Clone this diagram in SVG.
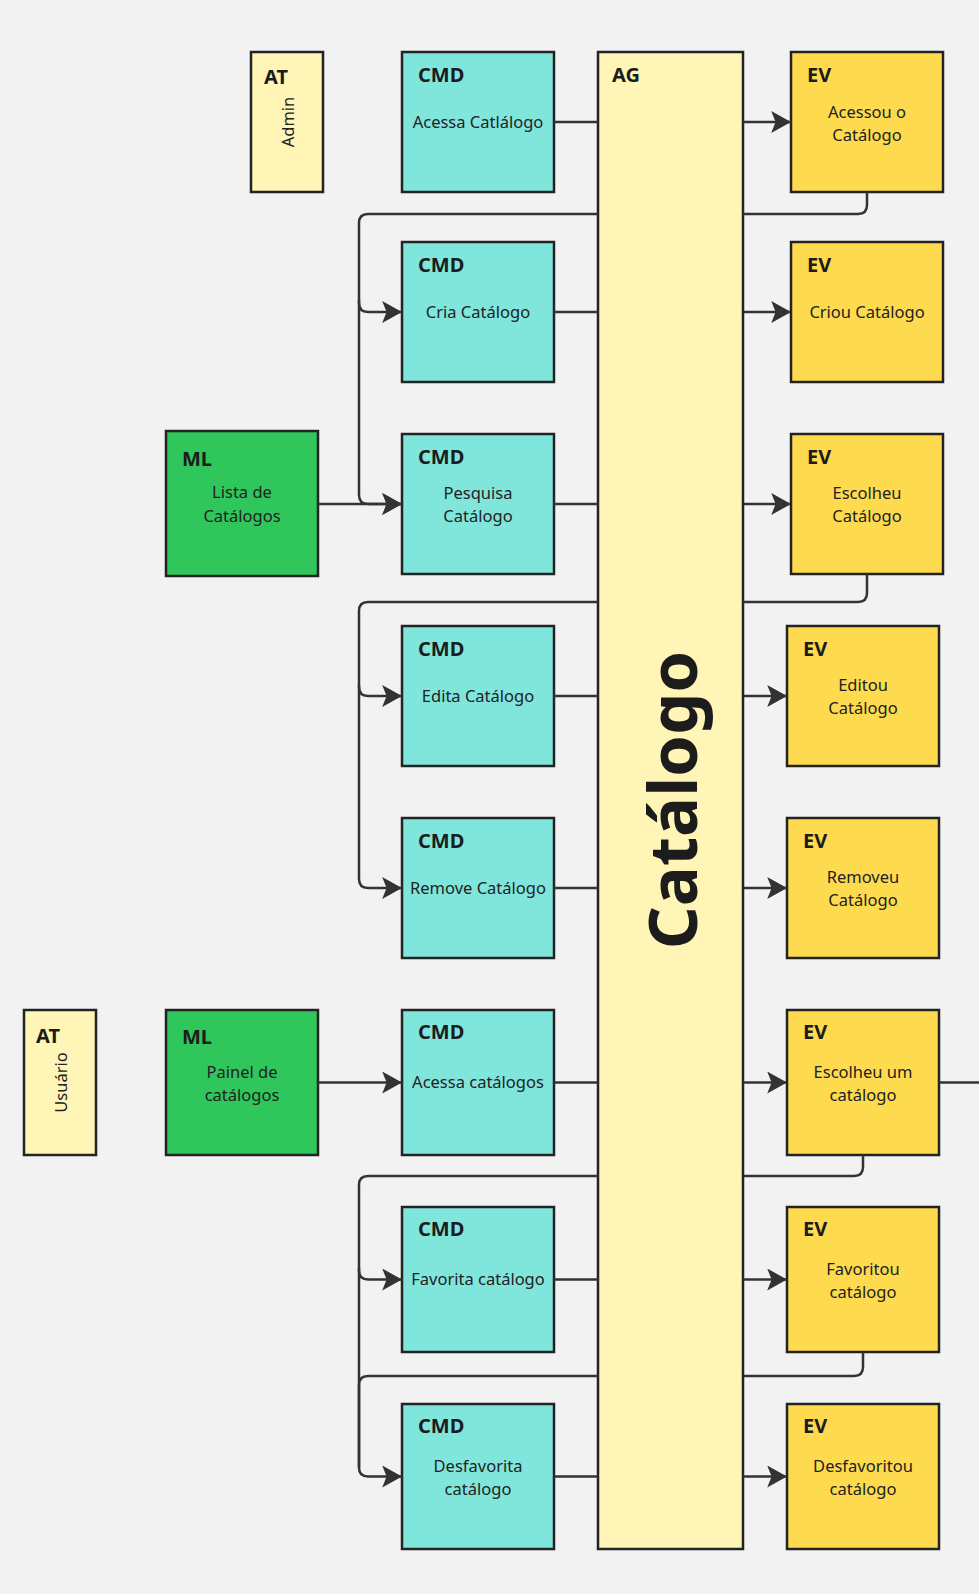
<svg xmlns="http://www.w3.org/2000/svg" width="979" height="1594" viewBox="0 0 979 1594">
<style>
.bg{fill:#f2f2f2}
.box{stroke:#232323;stroke-width:2.5}
.cmd{fill:#80e6dc}
.ev{fill:#fedb4e}
.ag{fill:#fff5b6}
.at{fill:#fff5b6}
.ml{fill:#2fc65c}
.t{font-family:"Noto Sans","Open Sans","DejaVu Sans",sans-serif;font-weight:700;font-size:20px;fill:#1c1c1c}
.b{font-family:"Noto Sans","Open Sans","DejaVu Sans",sans-serif;font-size:16.5px;fill:#222;text-anchor:middle}
.big{font-family:"Noto Sans","Open Sans","DejaVu Sans",sans-serif;font-weight:700;font-size:67px;fill:#1c1c1c;text-anchor:middle}
.c{fill:none;stroke:#333;stroke-width:2.5}
</style>
<defs>
<marker id="ah" markerUnits="userSpaceOnUse" markerWidth="20" markerHeight="22" viewBox="0 0 18 20" refX="18" refY="10" orient="auto">
<path d="M0,0 L18,10 L0,20 L4,10 Z" fill="#333"/>
</marker>
</defs>
<rect class="bg" x="0" y="0" width="979" height="1594"/>

<g id="nodes">
<g id="at-admin"><rect class="box at" x="251" y="52" width="72" height="140"/><text class="t" x="264" y="84">AT</text><text class="b" transform="translate(294,122) rotate(-90)">Admin</text></g>
<g id="at-usuario"><rect class="box at" x="24" y="1010" width="72" height="145"/><text class="t" x="36" y="1043">AT</text><text class="b" transform="translate(66.5,1082.5) rotate(-90)">Usuário</text></g>

<g id="ml-lista"><rect class="box ml" x="166" y="431" width="152" height="145"/><text class="t" x="182" y="466">ML</text><text class="b" x="242" y="498">Lista de</text><text class="b" x="242" y="521.5">Catálogos</text></g>
<g id="ml-painel"><rect class="box ml" x="166" y="1010" width="152" height="145"/><text class="t" x="182" y="1044">ML</text><text class="b" x="242" y="1077.5">Painel de</text><text class="b" x="242" y="1100.5">catálogos</text></g>

<g id="cmd-acessa"><rect class="box cmd" x="402" y="52" width="152" height="140"/><text class="t" x="418" y="82">CMD</text><text class="b" x="478" y="127.5">Acessa Catlálogo</text></g>
<g id="cmd-cria"><rect class="box cmd" x="402" y="242" width="152" height="140"/><text class="t" x="418" y="272">CMD</text><text class="b" x="478" y="317.5">Cria Catálogo</text></g>
<g id="cmd-pesquisa"><rect class="box cmd" x="402" y="434" width="152" height="140"/><text class="t" x="418" y="464">CMD</text><text class="b" x="478" y="498.5">Pesquisa</text><text class="b" x="478" y="522">Catálogo</text></g>
<g id="cmd-edita"><rect class="box cmd" x="402" y="626" width="152" height="140"/><text class="t" x="418" y="656">CMD</text><text class="b" x="478" y="701.5">Edita Catálogo</text></g>
<g id="cmd-remove"><rect class="box cmd" x="402" y="818" width="152" height="140"/><text class="t" x="418" y="848">CMD</text><text class="b" x="478" y="893.5">Remove Catálogo</text></g>
<g id="cmd-acessa-catalogos"><rect class="box cmd" x="402" y="1010" width="152" height="145"/><text class="t" x="418" y="1039">CMD</text><text class="b" x="478" y="1088">Acessa catálogos</text></g>
<g id="cmd-favorita"><rect class="box cmd" x="402" y="1207" width="152" height="145"/><text class="t" x="418" y="1236">CMD</text><text class="b" x="478" y="1285">Favorita catálogo</text></g>
<g id="cmd-desfavorita"><rect class="box cmd" x="402" y="1404" width="152" height="145"/><text class="t" x="418" y="1433">CMD</text><text class="b" x="478" y="1471.5">Desfavorita</text><text class="b" x="478" y="1495">catálogo</text></g>

<g id="ag-catalogo"><rect class="box ag" x="598" y="52" width="145" height="1497"/><text class="t" x="612" y="82">AG</text><text class="big" transform="translate(697,800) rotate(-90)">Catálogo</text></g>

<g id="ev-acessou"><rect class="box ev" x="791" y="52" width="152" height="140"/><text class="t" x="807" y="82">EV</text><text class="b" x="867" y="117.5">Acessou o</text><text class="b" x="867" y="141">Catálogo</text></g>
<g id="ev-criou"><rect class="box ev" x="791" y="242" width="152" height="140"/><text class="t" x="807" y="272">EV</text><text class="b" x="867" y="317.5">Criou Catálogo</text></g>
<g id="ev-escolheu"><rect class="box ev" x="791" y="434" width="152" height="140"/><text class="t" x="807" y="464">EV</text><text class="b" x="867" y="498.5">Escolheu</text><text class="b" x="867" y="522">Catálogo</text></g>
<g id="ev-editou"><rect class="box ev" x="787" y="626" width="152" height="140"/><text class="t" x="803" y="656">EV</text><text class="b" x="863" y="690.5">Editou</text><text class="b" x="863" y="714">Catálogo</text></g>
<g id="ev-removeu"><rect class="box ev" x="787" y="818" width="152" height="140"/><text class="t" x="803" y="848">EV</text><text class="b" x="863" y="882.5">Removeu</text><text class="b" x="863" y="906">Catálogo</text></g>
<g id="ev-escolheu-um"><rect class="box ev" x="787" y="1010" width="152" height="145"/><text class="t" x="803" y="1039">EV</text><text class="b" x="863" y="1077.5">Escolheu um</text><text class="b" x="863" y="1101">catálogo</text></g>
<g id="ev-favoritou"><rect class="box ev" x="787" y="1207" width="152" height="145"/><text class="t" x="803" y="1236">EV</text><text class="b" x="863" y="1274.5">Favoritou</text><text class="b" x="863" y="1298">catálogo</text></g>
<g id="ev-desfavoritou"><rect class="box ev" x="787" y="1404" width="152" height="145"/><text class="t" x="803" y="1433">EV</text><text class="b" x="863" y="1471.5">Desfavoritou</text><text class="b" x="863" y="1495">catálogo</text></g>
</g>

<g id="connectors">
<path class="c" d="M554 122 H598"/>
<path class="c" d="M554 312 H598"/>
<path class="c" d="M554 504 H598"/>
<path class="c" d="M554 696 H598"/>
<path class="c" d="M554 888 H598"/>
<path class="c" d="M554 1082.5 H598"/>
<path class="c" d="M554 1279.5 H598"/>
<path class="c" d="M554 1476.5 H598"/>

<path class="c" d="M743 122 H791" marker-end="url(#ah)"/>
<path class="c" d="M743 312 H791" marker-end="url(#ah)"/>
<path class="c" d="M743 504 H791" marker-end="url(#ah)"/>
<path class="c" d="M743 696 H787" marker-end="url(#ah)"/>
<path class="c" d="M743 888 H787" marker-end="url(#ah)"/>
<path class="c" d="M743 1082.5 H787" marker-end="url(#ah)"/>
<path class="c" d="M743 1279.5 H787" marker-end="url(#ah)"/>
<path class="c" d="M743 1476.5 H787" marker-end="url(#ah)"/>

<path class="c" d="M318 504 H402" marker-end="url(#ah)"/>
<path class="c" d="M318 1082.5 H402" marker-end="url(#ah)"/>
<path class="c" d="M939 1082.5 H982"/>

<path class="c" d="M867 192 V205 Q867 214 858 214 H743"/>
<path class="c" d="M598 214 H368 Q359 214 359 223 V303 Q359 312 368 312 H402" marker-end="url(#ah)"/>
<path class="c" d="M359 300 V495 Q359 504 368 504 H402" marker-end="url(#ah)"/>

<path class="c" d="M867 574 V593 Q867 602 858 602 H743"/>
<path class="c" d="M598 602 H368 Q359 602 359 611 V687 Q359 696 368 696 H402" marker-end="url(#ah)"/>
<path class="c" d="M359 685 V879 Q359 888 368 888 H402" marker-end="url(#ah)"/>

<path class="c" d="M863 1155 V1167 Q863 1176 854 1176 H743"/>
<path class="c" d="M598 1176 H368 Q359 1176 359 1185 V1270.5 Q359 1279.5 368 1279.5 H402" marker-end="url(#ah)"/>
<path class="c" d="M359 1268 V1467.5 Q359 1476.5 368 1476.5 H402" marker-end="url(#ah)"/>

<path class="c" d="M863 1352 V1367 Q863 1376 854 1376 H743"/>
<path class="c" d="M598 1376 H368 Q359 1376 359 1385 V1467.5"/>
</g>
</svg>
